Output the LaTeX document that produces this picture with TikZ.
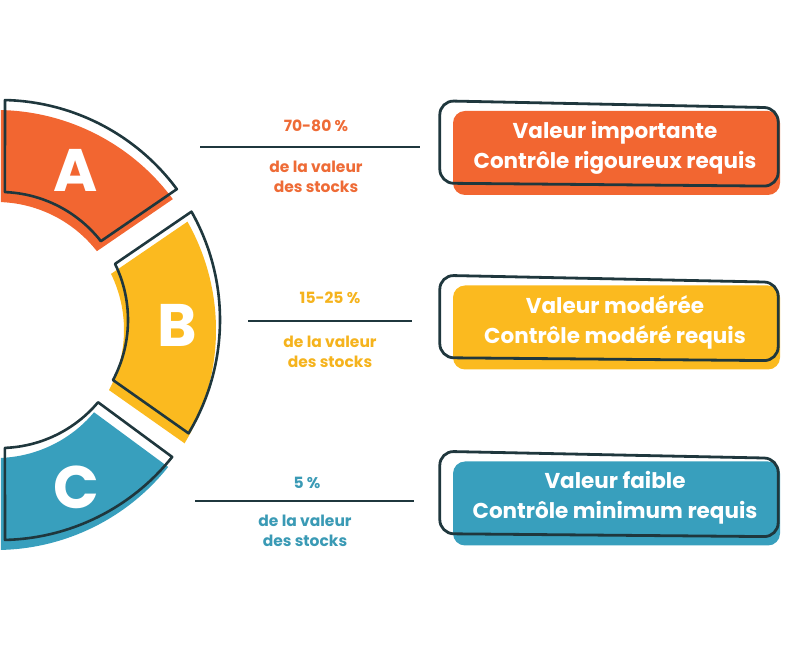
\documentclass[tikz,border=0pt]{standalone}
\usepackage{fontspec}
\setmainfont{Poppins}
\usetikzlibrary{positioning,calc}
\definecolor{abcorange}{HTML}{F26631}
\definecolor{abcyellow}{HTML}{FBBA1F}
\definecolor{abcblue}{HTML}{389FBD}
\definecolor{abcdark}{HTML}{1F373D}
\definecolor{txtorange}{HTML}{EE6B36}
\definecolor{txtyellow}{HTML}{F5B31D}
\definecolor{txtblue}{HTML}{3A9AB5}

\begin{document}
\begin{tikzpicture}[x=1pt, y=1pt,
  ring/.style={line width=2.6pt, draw=abcdark, line join=round},
  letter/.style={font=\fontsize{60}{60}\selectfont\bfseries, text=white},
  share/.style={font=\fontsize{15.5}{15.5}\selectfont\bfseries},
  sharenote/.style={font=\fontsize{15.5}{20}\selectfont\bfseries, align=center},
  sep/.style={line width=2.6pt, draw=abcdark},
  boxfill/.style={rounded corners=12pt, minimum width=327pt,
    minimum height=84pt, inner sep=0pt},
  boxtext/.style={font=\fontsize{21.5}{30}\selectfont\bfseries, text=white,
    align=center},
  boxline/.style={line width=2.8pt, draw=abcdark, rounded corners=14pt}
]
\useasboundingbox (0,0) rectangle (800,650);

% Ring, segment A (top)
\fill[abcorange, shift={(-4,320)}] (36.5:220)
  arc[start angle=36.5, end angle=88.7, radius=220] -- (87.8:128)
  arc[start angle=87.8, end angle=38, radius=128] -- cycle;
\draw[ring, shift={(0,330)}] (36.5:220)
  arc[start angle=36.5, end angle=88.7, radius=220] -- (87.8:128)
  arc[start angle=87.8, end angle=38, radius=128] -- cycle;
\node[letter] (segA) at (76,480) {A};

% Ring, segment B (middle)
\fill[abcyellow, shift={(-4,320)}] (-31:220)
  arc[start angle=-31, end angle=29.5, radius=220] -- (26:128)
  arc[start angle=26, end angle=-28, radius=128] -- cycle;
\draw[ring, shift={(0,330)}] (-31:220)
  arc[start angle=-31, end angle=29.5, radius=220] -- (26:128)
  arc[start angle=26, end angle=-28, radius=128] -- cycle;
\node[letter] (segB) at (177,325) {B};

% Ring, segment C (bottom)
\fill[abcblue, shift={(-4,320)}] (-88.7:220)
  arc[start angle=-88.7, end angle=-38.5, radius=220] -- (-40:128)
  arc[start angle=-40, end angle=-87.8, radius=128] -- cycle;
\draw[ring, shift={(0,330)}] (-88.7:220)
  arc[start angle=-88.7, end angle=-38.5, radius=220] -- (-40:128)
  arc[start angle=-40, end angle=-87.8, radius=128] -- cycle;
\node[letter] (segC) at (76,163) {C};

% Shares of stock value
\node[share, text=txtorange] (pctA) at (316,524) {70-80 \%};
\coordinate (sepAl) at (200,503);
\coordinate (sepAr) at (420,503);
\draw[sep] (sepAl) -- (sepAr);
\node[sharenote, text=txtorange] (noteA) at (316,473) {de la valeur\\des stocks};

\node[share, text=txtyellow] (pctB) at (330,352) {15-25 \%};
\coordinate (sepBl) at (248,329);
\coordinate (sepBr) at (412,329);
\draw[sep] (sepBl) -- (sepBr);
\node[sharenote, text=txtyellow] (noteB) at (330,298) {de la valeur\\des stocks};

\node[share, text=txtblue] (pctC) at (307,167) {5 \%};
\coordinate (sepCl) at (195,149);
\coordinate (sepCr) at (414,149);
\draw[sep] (sepCl) -- (sepCr);
\node[sharenote, text=txtblue] (noteC) at (305,119) {de la valeur\\des stocks};

% Boxes: fill, hand-drawn outline, text
\node[boxfill, fill=abcorange] (boxA) at (616.5,497) {};
\draw[boxline] ($(boxA.north west)+(-13,10)$) -- ($(boxA.north east)+(-2,3)$)
  -- ($(boxA.south east)+(-2,9)$) -- ($(boxA.south west)+(-13,12)$) -- cycle;
\node[boxtext] (txtA) at (615,502) {Valeur importante\\Contrôle rigoureux requis};

\node[boxfill, fill=abcyellow] (boxB) at (616.5,322.5) {};
\draw[boxline] ($(boxB.north west)+(-13,10)$) -- ($(boxB.north east)+(-2,3)$)
  -- ($(boxB.south east)+(-2,9)$) -- ($(boxB.south west)+(-13,12)$) -- cycle;
\node[boxtext] (txtB) at (615,327.5) {Valeur modérée\\Contrôle modéré requis};

\node[boxfill, fill=abcblue] (boxC) at (616.5,146.5) {};
\draw[boxline] ($(boxC.north west)+(-13,10)$) -- ($(boxC.north east)+(-2,3)$)
  -- ($(boxC.south east)+(-2,9)$) -- ($(boxC.south west)+(-13,12)$) -- cycle;
\node[boxtext] (txtC) at (615,152) {Valeur faible\\Contrôle minimum requis};

\end{tikzpicture}
\end{document}
